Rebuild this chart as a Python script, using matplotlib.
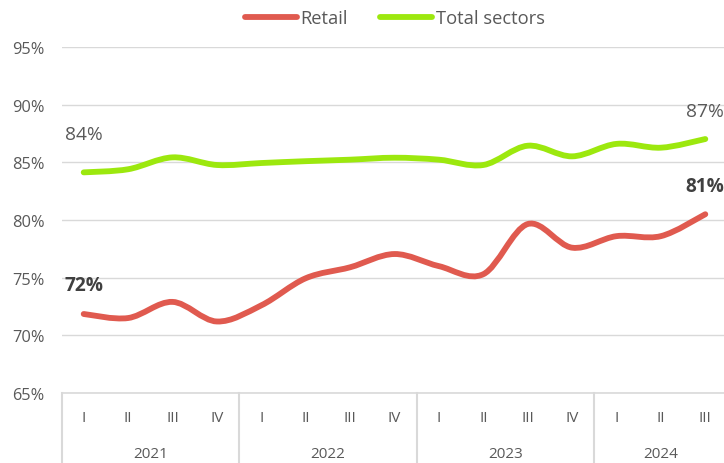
import numpy as np
import matplotlib.pyplot as plt
from matplotlib.path import Path
from matplotlib.patches import PathPatch
from matplotlib.lines import Line2D
import matplotlib.transforms as mtransforms

plt.rcParams['font.family'] = ['Open Sans', 'DejaVu Sans']

quarters = ['I', 'II', 'III', 'IV'] * 3 + ['I', 'II', 'III']
years = ['2021', '2022', '2023', '2024']
retail = [71.85, 71.5, 72.9, 71.2, 72.6, 74.95, 75.9, 77.05,
          76.0, 75.3, 79.65, 77.6, 78.6, 78.6, 80.5]
total = [84.13, 84.4, 85.43, 84.77, 84.94, 85.1, 85.23, 85.4,
         85.23, 84.77, 86.44, 85.52, 86.6, 86.27, 87.02]

RED = '#E05A4F'
GREEN = '#9CE80E'
GRID = '#D9D9D9'
TXT = '#595959'


def smooth_path(xs, ys):
    # bezier segments, roughly like excel's "smoothed line"
    p = np.column_stack([xs, ys])
    n = len(p)
    verts = [p[0]]
    codes = [Path.MOVETO]
    for i in range(n - 1):
        p0 = p[max(i - 1, 0)]
        p1 = p[i]
        p2 = p[i + 1]
        p3 = p[min(i + 2, n - 1)]
        c1 = p1 + (p2 - p0) / 6
        c2 = p2 - (p3 - p1) / 6
        verts += [c1, c2, p2]
        codes += [Path.CURVE4] * 3
    return Path(verts, codes)


fig = plt.figure(figsize=(7.24, 4.64), dpi=100)
ax = fig.add_axes([61.5 / 724, 70 / 464, 666 / 724, 346 / 464])

x = np.arange(len(quarters))
for vals, col in [(total, GREEN), (retail, RED)]:
    patch = PathPatch(smooth_path(x, np.array(vals) / 100), facecolor='none',
                      edgecolor=col, lw=4.2, capstyle='round', joinstyle='round')
    ax.add_patch(patch)

ax.set_xlim(-0.5, len(quarters) - 0.5)
ax.set_ylim(0.65, 0.95)
ax.set_yticks(np.arange(0.65, 0.951, 0.05))
ax.set_yticklabels([f'{v:.0f}%' for v in np.arange(65, 96, 5)])
ax.tick_params(axis='y', length=0, pad=12, labelsize=11.8, labelcolor=TXT)
ax.grid(axis='y', color=GRID, lw=1)
ax.set_axisbelow(True)
for s in ['left', 'right', 'top']:
    ax.spines[s].set_visible(False)
ax.spines['bottom'].set_color(GRID)
ax.spines['bottom'].set_linewidth(1.2)

ax.set_xticks([])
trans = mtransforms.blended_transform_factory(ax.transData, ax.transAxes)
for i, q in enumerate(quarters):
    ax.text(i, -24.5 / 346, q, transform=trans, ha='center', va='center',
            fontsize=11, color=TXT)
for k, yr in enumerate(years):
    n = 4 if k < 3 else 3
    ax.text(4 * k + (n - 1) / 2, -61 / 346, yr, transform=trans, ha='center',
            va='center', fontsize=11, color=TXT)
for b in [-0.5, 3.5, 7.5, 11.5]:
    ax.plot([b, b], [0, -0.21], transform=trans, color=GRID, lw=1.5, clip_on=False)

# end labels
ax.annotate('84%', (0, total[0] / 100), xytext=(0, 38), textcoords='offset pixels',
            ha='center', va='center', fontsize=13.8, color=TXT)
ax.annotate('87%', (14, total[-1] / 100), xytext=(0, 28), textcoords='offset pixels',
            ha='center', va='center', fontsize=13.8, color=TXT)
ax.annotate('72%', (0, retail[0] / 100), xytext=(0, 29), textcoords='offset pixels',
            ha='center', va='center', fontsize=13.8, color='#404040', fontweight='bold')
ax.annotate('81%', (14, retail[-1] / 100), xytext=(0, 28), textcoords='offset pixels',
            ha='center', va='center', fontsize=13.8, color='#404040', fontweight='bold')

handles = [Line2D([], [], color=RED, lw=4.2, solid_capstyle='round'),
           Line2D([], [], color=GREEN, lw=4.2, solid_capstyle='round')]
fig.legend(handles, ['Retail', 'Total sectors'], loc='center', ncol=2,
           bbox_to_anchor=(395 / 724, 1 - 19 / 464), frameon=False,
           fontsize=13.2, labelcolor=TXT, handlelength=2.8, handletextpad=0.22,
           columnspacing=1.75)

fig.savefig('out.png', dpi=100)
